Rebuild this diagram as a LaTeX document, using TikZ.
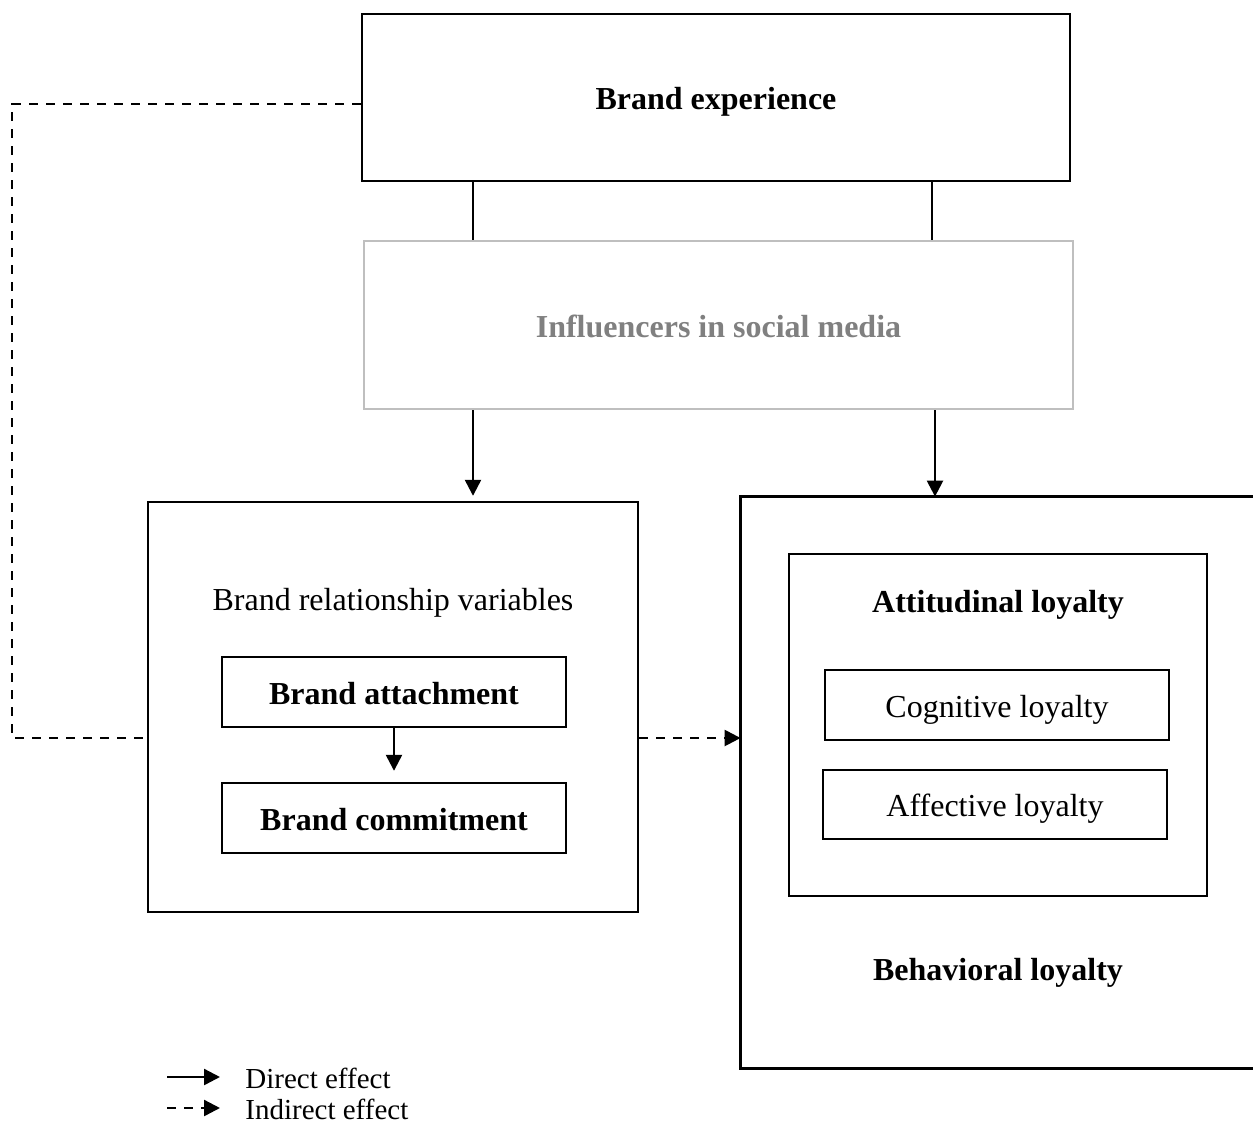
\documentclass[tikz,border=0pt]{standalone}
\usepackage{fontspec}
\setmainfont{Liberation Serif}
\usetikzlibrary{arrows.meta}
\definecolor{lightgrayline}{HTML}{BFBFBF}
\definecolor{graytext}{HTML}{808080}
\tikzset{
  x=0.5pt, y=-0.5pt,
  box/.style={draw, line width=1.2pt, inner sep=0pt, align=center, text height=12pt, text depth=0pt},
  plainbox/.style={inner sep=0pt, align=center},
  lbl/.style={inner sep=0pt, text height=12pt, text depth=0pt, font=\fontsize{16}{19}\selectfont},
  lblb/.style={inner sep=0pt, text height=12pt, text depth=0pt, font=\fontsize{16}{19}\selectfont\bfseries},
  leg/.style={inner sep=0pt, anchor=west, text height=10pt, text depth=0pt, font=\fontsize{14.5}{17}\selectfont},
  conn/.style={line width=1.2pt},
  arr/.style={line width=1.2pt, -{Triangle[length=8pt,width=8pt]}},
  dline/.style={line width=1.2pt, dash pattern=on 4.5pt off 4pt},
  darr/.style={line width=1.2pt, dash pattern=on 4.5pt off 4pt, -{Triangle[length=8pt,width=8pt]}}
}
\begin{document}
\begin{tikzpicture}
\useasboundingbox[fill=white] (0,0) rectangle (1253,1124);
% boxes
\node[box, minimum width=354pt, minimum height=83.5pt, font=\fontsize{16}{19}\selectfont\bfseries] (be) at (716,97.5) {Brand experience};
\node[box, draw=lightgrayline, text=graytext, minimum width=354.5pt, minimum height=84pt, font=\fontsize{16}{19}\selectfont\bfseries] (inf) at (718.5,325) {Influencers in social media};
\node[box, minimum width=245pt, minimum height=205pt] (lb) at (393,707) {};
\node[lbl] (lbt) at (393,598) {Brand relationship variables};
\node[box, minimum width=172pt, minimum height=35pt, font=\fontsize{16}{19}\selectfont\bfseries] (att) at (394,692) {Brand attachment};
\node[box, minimum width=172pt, minimum height=35pt, font=\fontsize{16}{19}\selectfont\bfseries] (com) at (394,818) {Brand commitment};
% right big box (right side cut by page)
\node[plainbox, minimum width=264.5pt, minimum height=285.5pt] (rb) at (1005.5,782.5) {};
\draw[line width=1.2pt] (rb.north east) -- (rb.north west) -- (rb.south west) -- (rb.south east);
\node[box, minimum width=209pt, minimum height=171pt] (al) at (998,725) {};
\node[lblb] (alt) at (998,600) {Attitudinal loyalty};
\node[box, minimum width=172pt, minimum height=35pt, font=\fontsize{16}{19}\selectfont] (cog) at (997,705) {Cognitive loyalty};
\node[box, minimum width=172pt, minimum height=34.5pt, font=\fontsize{16}{19}\selectfont] (aff) at (995,804.5) {Affective loyalty};
\node[lblb] (beh) at (998,968) {Behavioral loyalty};
% connectors
\coordinate (xl) at (473,0);
\coordinate (xr) at (932,0);
\coordinate (xr2) at (935,0);
\draw[conn] (be.south -| xl) -- (inf.north -| xl);
\draw[conn] (be.south -| xr) -- (inf.north -| xr);
\draw[arr, shorten >=2.5pt] (inf.south -| xl) -- (lb.north -| xl);
\draw[arr] (inf.south -| xr2) -- (rb.north -| xr2);
\draw[arr, shorten >=5.5pt] (att.south) -- (com.north);
% dashed
\coordinate (d1) at (12,104);
\coordinate (d2) at (12,738);
\draw[dline] (be.west |- d1) -- (d1) -- (d2) -- (lb.west |- d2);
\draw[darr] (lb.east |- d2) -- (rb.west |- d2);
% legend
\coordinate (s1) at (167,1077);
\coordinate (e1) at (220,1077);
\coordinate (s2) at (167,1108);
\coordinate (e2) at (220,1108);
\draw[arr] (s1) -- (e1);
\draw[darr] (s2) -- (e2);
\node[leg] (lg1) at (245,1078.5) {Direct effect};
\node[leg] (lg2) at (245,1109.5) {Indirect effect};
\end{tikzpicture}
\end{document}
